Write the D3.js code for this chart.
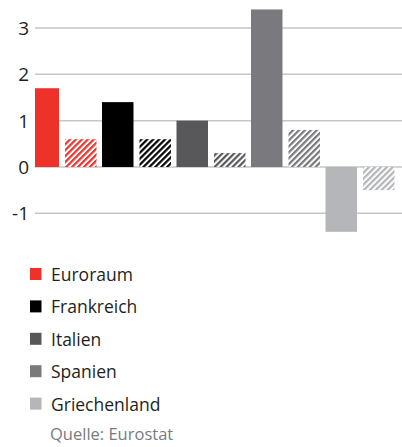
<!DOCTYPE html>
<html>
<head>
<meta charset="utf-8">
<script src="https://cdn.jsdelivr.net/npm/d3@7"></script>
<style>
  body { margin: 0; background: #fff; }
  svg { display: block; font-family: "Open Sans", "Noto Sans", sans-serif; }
</style>
</head>
<body>
<svg id="chart" width="402" height="447"></svg>
<script>
// values per country: solid bar and hatched bar
var countries = ['Euroraum', 'Frankreich', 'Italien', 'Spanien', 'Griechenland'];
var solidValues = [1.7, 1.4, 1.0, 3.4, -1.4];
var hatchValues = [0.6, 0.6, 0.3, 0.8, -0.5];
var colors = ['#ee3129', '#000000', '#58585b', '#7a7a7e', '#b5b6ba'];
var yTicks = [-1, 0, 1, 2, 3];

var width = 402,
    height = 447;

var svg = d3.select('#chart');

var plotLeft = 35;

var y = d3.scaleLinear()
    .domain([-1, 3])
    .range([213.3, 28]);

var x0 = d3.scaleBand()
    .domain(countries)
    .range([27.5, 400])
    .padding(0);

var x1 = d3.scaleBand()
    .domain(['solid', 'hatch'])
    .range([0, 69])
    .paddingInner(0.16)
    .paddingOuter(0);

// hatch patterns, one per colour
var defs = svg.append('defs');
colors.forEach(function(c, i) {
    var p = defs.append('pattern')
        .attr('id', 'hatch' + i)
        .attr('patternUnits', 'userSpaceOnUse')
        .attr('width', 4.2)
        .attr('height', 4.2)
        .attr('patternTransform', 'rotate(45)');
    p.append('rect').attr('width', 4.2).attr('height', 4.2).attr('fill', '#fff');
    p.append('line')
        .attr('x1', 1.1).attr('y1', 0)
        .attr('x2', 1.1).attr('y2', 4.2)
        .attr('stroke', c)
        .attr('stroke-width', 2.2);
});

defs.append('clipPath').attr('id', 'plotclip')
    .append('rect')
    .attr('x', plotLeft).attr('y', 0)
    .attr('width', width - plotLeft).attr('height', 240);

// gridlines
svg.append('g')
    .selectAll('line')
    .data(yTicks)
    .enter().append('line')
        .attr('x1', plotLeft)
        .attr('x2', width)
        .attr('y1', d => y(d))
        .attr('y2', d => y(d))
        .attr('stroke', '#c6c6c6')
        .attr('stroke-width', 1.5);

// tick labels
svg.append('g')
    .selectAll('text')
    .data(yTicks)
    .enter().append('text')
        .attr('x', 29)
        .attr('y', d => y(d) + 7)
        .attr('text-anchor', 'end')
        .attr('font-size', 19)
        .attr('fill', '#231f20')
        .text(d => d);

var bars = svg.append('g').attr('clip-path', 'url(#plotclip)');

var rows = countries.map((c, i) => ({
    country: c, i: i, solid: solidValues[i], hatch: hatchValues[i]
}));

bars.selectAll('rect.solid')
    .data(rows)
    .enter().append('rect')
        .attr('class', 'solid')
        .attr('x', d => x0(d.country) + x1('solid'))
        .attr('width', x1.bandwidth())
        .attr('y', d => y(Math.max(0, d.solid)))
        .attr('height', d => Math.abs(y(d.solid) - y(0)))
        .attr('fill', d => colors[d.i]);

bars.selectAll('rect.hatch')
    .data(rows)
    .enter().append('rect')
        .attr('class', 'hatch')
        .attr('x', d => x0(d.country) + x1('hatch'))
        .attr('width', x1.bandwidth())
        .attr('y', d => y(Math.max(0, d.hatch)))
        .attr('height', d => Math.abs(y(d.hatch) - y(0)))
        .attr('fill', d => 'url(#hatch' + d.i + ')');

// legend
var legend = svg.append('g')
    .selectAll('g')
    .data(countries)
    .enter().append('g')
        .attr('transform', (d, i) => 'translate(30,' + (268 + i * 32.4) + ')');

legend.append('rect')
    .attr('width', 11.5)
    .attr('height', 12)
    .attr('fill', (d, i) => colors[i]);

legend.append('text')
    .attr('x', 21)
    .attr('y', 13)
    .attr('font-size', 17.5)
    .attr('fill', '#231f20')
    .text(d => d);

svg.append('text')
    .attr('x', 50)
    .attr('y', 440)
    .attr('font-size', 16.5)
    .attr('fill', '#7a7a7e')
    .text('Quelle: Eurostat');
</script>
</body>
</html>
